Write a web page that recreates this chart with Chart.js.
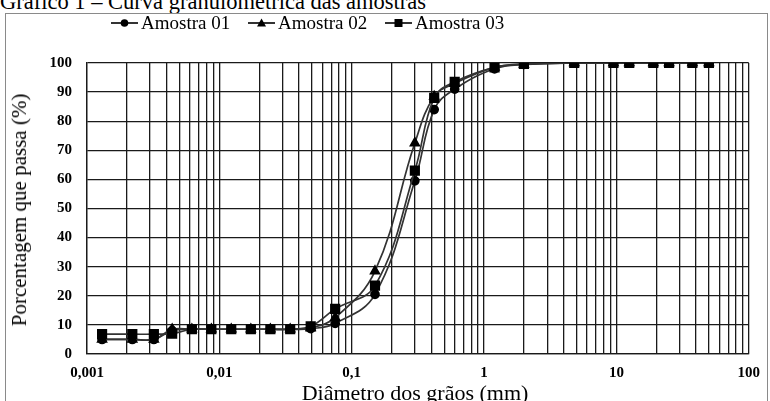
<!DOCTYPE html>
<html>
<head>
<meta charset="utf-8">
<script src="https://cdn.jsdelivr.net/npm/chart.js@4.4.1/dist/chart.umd.min.js"></script>
<style>
  html, body { margin:0; padding:0; background:#fff; }
  body { width:770px; height:401px; overflow:hidden; position:relative; font-family:"Liberation Serif","Times New Roman",serif; color:#000; }
  #title { position:absolute; left:0; top:-9px; font-size:22.5px; line-height:22px; white-space:nowrap; }
  #frame { position:absolute; left:5px; top:13px; width:763px; height:420px; border:1px solid #8a8a8a; box-sizing:border-box; }
  #wrap { position:absolute; left:0; top:0; width:770px; height:401px; }
  .leg { position:absolute; top:13px; height:20px; display:flex; align-items:center; font-size:19px; white-space:nowrap; }
  .leg svg { margin-right:3px; }
  #ytitle { position:absolute; left:19px; top:210px; transform:translate(-50%,-50%) rotate(-90deg); font-size:21px; white-space:nowrap; line-height:22px; }
  #xtitle { position:absolute; left:415px; top:382px; transform:translateX(-50%); font-size:22px; line-height:22px; white-space:nowrap; }
</style>
</head>
<body>
<div id="title">Gráfico 1 – Curva granulométrica das amostras</div>
<div id="frame"></div>
<div id="wrap"><canvas id="c" width="770" height="401"></canvas></div>
<div class="leg" style="left:111px"><svg width="27" height="12"><line x1="0" y1="6" x2="27" y2="6" stroke="#000" stroke-width="1.6"/><circle cx="13.5" cy="6" r="3.8" fill="#000"/></svg><span>Amostra 01</span></div>
<div class="leg" style="left:248px"><svg width="27" height="12"><line x1="0" y1="6" x2="27" y2="6" stroke="#000" stroke-width="1.6"/><polygon points="13.5,1.5 18,9.5 9,9.5" fill="#000"/></svg><span>Amostra 02</span></div>
<div class="leg" style="left:385px"><svg width="27" height="12"><line x1="0" y1="6" x2="27" y2="6" stroke="#000" stroke-width="1.6"/><rect x="9.5" y="2" width="8" height="8" fill="#000"/></svg><span>Amostra 03</span></div>
<div id="ytitle">Porcentagem que passa (%)</div>
<div id="xtitle">Diâmetro dos grãos (mm)</div>
<script>
// Tick labels
const xTickValues = [0.001, 0.01, 0.1, 1, 10, 100];
const xTickLabels = ['0,001', '0,01', '0,1', '1', '10', '100'];
const yTickValues = [0, 10, 20, 30, 40, 50, 60, 70, 80, 90, 100];

// Series names
const seriesNames = ['Amostra 01', 'Amostra 02', 'Amostra 03'];

// Grain diameters (mm)
const diametros = [0.0013, 0.0022, 0.0032, 0.0044, 0.0062, 0.0087, 0.0123, 0.0173, 0.0243, 0.0343, 0.049,
                   0.075, 0.15, 0.3, 0.42, 0.6, 1.2, 2.0, 4.8, 9.5, 12.5, 19, 25, 37.5, 50];

// Percent passing
const amostra01 = [5, 5, 5, 8, 8.5, 8.5, 8.5, 8.5, 8.5, 8.5, 8.7,
                   10.5, 20.5, 59.5, 84, 91, 98, 99.5, 100, 100, 100, 100, 100, 100, 100];
const amostra02 = [5, 5, 5, 8.5, 8.5, 8.5, 8.5, 8.5, 8.5, 8.5, 9,
                   12.5, 28.5, 72.5, 88.5, 93, 98.5, 99.5, 100, 100, 100, 100, 100, 100, 100];
const amostra03 = [6.8, 6.8, 6.8, 7, 8.5, 8.5, 8.5, 8.5, 8.5, 8.5, 9.5,
                   15.5, 23.5, 63, 88, 93.5, 98.5, 99.7, 100, 100, 100, 100, 100, 100, 100];

function pts(vals) { return diametros.map((d, i) => ({ x: d, y: vals[i] })); }

// log grid positions: 1..9 x each decade
const gridTicks = [];
for (let k = 0; k < xTickValues.length - 1; k++) {
  for (let m = 1; m <= 9; m++) gridTicks.push(xTickValues[k] * m);
}
gridTicks.push(xTickValues[xTickValues.length - 1]);

const lineCommon = { borderColor: '#333', borderWidth: 1.7, pointBackgroundColor: '#000', pointBorderColor: '#000', tension: 0.4, fill: false };

new Chart(document.getElementById('c'), {
  type: 'line',
  data: {
    datasets: [
      Object.assign({ label: seriesNames[0], data: pts(amostra01), pointStyle: 'circle', pointRadius: 4, order: 2 }, lineCommon),
      Object.assign({ label: seriesNames[1], data: pts(amostra02), pointStyle: 'triangle', pointRadius: 5, order: 1 }, lineCommon),
      Object.assign({ label: seriesNames[2], data: pts(amostra03), pointStyle: 'rect', pointRadius: 6, order: 0 }, lineCommon)
    ]
  },
  options: {
    responsive: false,
    animation: false,
    events: [],
    layout: { padding: { top: 63, right: 12, left: 0, bottom: 0 } },
    plugins: { legend: { display: false }, tooltip: { enabled: false }, title: { display: false } },
    scales: {
      x: {
        type: 'logarithmic',
        min: 0.001, max: 100,
        afterBuildTicks: (s) => { s.ticks = gridTicks.map(v => ({ value: v })); },
        afterFit: (s) => { s.height = 47; },
        ticks: {
          autoSkip: false, maxRotation: 0, minRotation: 0, padding: 10,
          color: '#000',
          font: { family: 'Liberation Serif', size: 15, weight: 'bold' },
          callback: (v) => {
            const i = xTickValues.findIndex(t => Math.abs(Math.log10(t) - Math.log10(v)) < 1e-6);
            return i >= 0 ? xTickLabels[i] : '';
          }
        },
        grid: { color: '#1a1a1a', lineWidth: 1.3, drawTicks: false },
        border: { display: true, color: '#1a1a1a', width: 1.3 }
      },
      y: {
        min: 0, max: 100,
        afterBuildTicks: (s) => { s.ticks = yTickValues.map(v => ({ value: v })); },
        afterFit: (s) => { s.width = 87; },
        ticks: {
          padding: 15, color: '#000',
          font: { family: 'Liberation Serif', size: 15, weight: 'bold' }
        },
        grid: { color: '#1a1a1a', lineWidth: 1.3, drawTicks: false },
        border: { display: true, color: '#1a1a1a', width: 1.3 }
      }
    }
  }
});
</script>
</body>
</html>
